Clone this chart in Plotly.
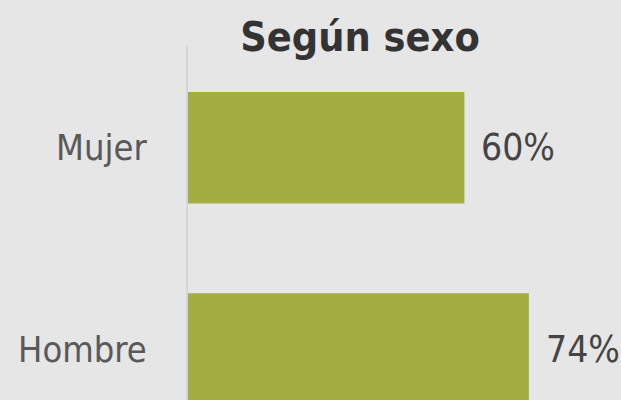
import plotly.graph_objects as go

categories = ["Mujer", "Hombre"]
values = [60, 74]
labels = ["60%", "74%"]

FONT = "Liberation Sans Narrow, DejaVu Sans Condensed"

fig = go.Figure(go.Bar(
    x=values, y=categories, orientation="h",
    marker=dict(color="#a3ad42", line=dict(width=0)),
    hoverinfo="skip",
))

# value labels just right of each bar end
for cat, val, lab in zip(categories, values, labels):
    fig.add_annotation(x=val, y=cat, text=lab, showarrow=False,
                       xanchor="left", xshift=15,
                       font=dict(family=FONT, size=37, color="#444444"))

fig.update_layout(
    width=621, height=400,
    paper_bgcolor="#e6e6e6", plot_bgcolor="#e6e6e6",
    margin=dict(l=188, r=0, t=46, b=0),
    bargap=0.446,
    showlegend=False,
    title=dict(text="Según sexo", x=360 / 621, xanchor="center", xref="container",
               y=1 - 51 / 400, yanchor="bottom", yref="container",
               font=dict(family=FONT, size=41, color="#333333", weight="bold")),
    font=dict(family=FONT),
)
fig.update_xaxes(range=[0, 94], visible=False)
fig.update_yaxes(range=[1.2525, -0.505], showgrid=False, zeroline=False,
                 showline=True, linecolor="#d6d6d6", linewidth=2,
                 ticks="", ticklabelstandoff=32, automargin=False,
                 tickfont=dict(size=36, color="#595959"))

fig.write_html("out.html", config={"displayModeBar": False},
               post_script="document.body.style.margin='0';")
